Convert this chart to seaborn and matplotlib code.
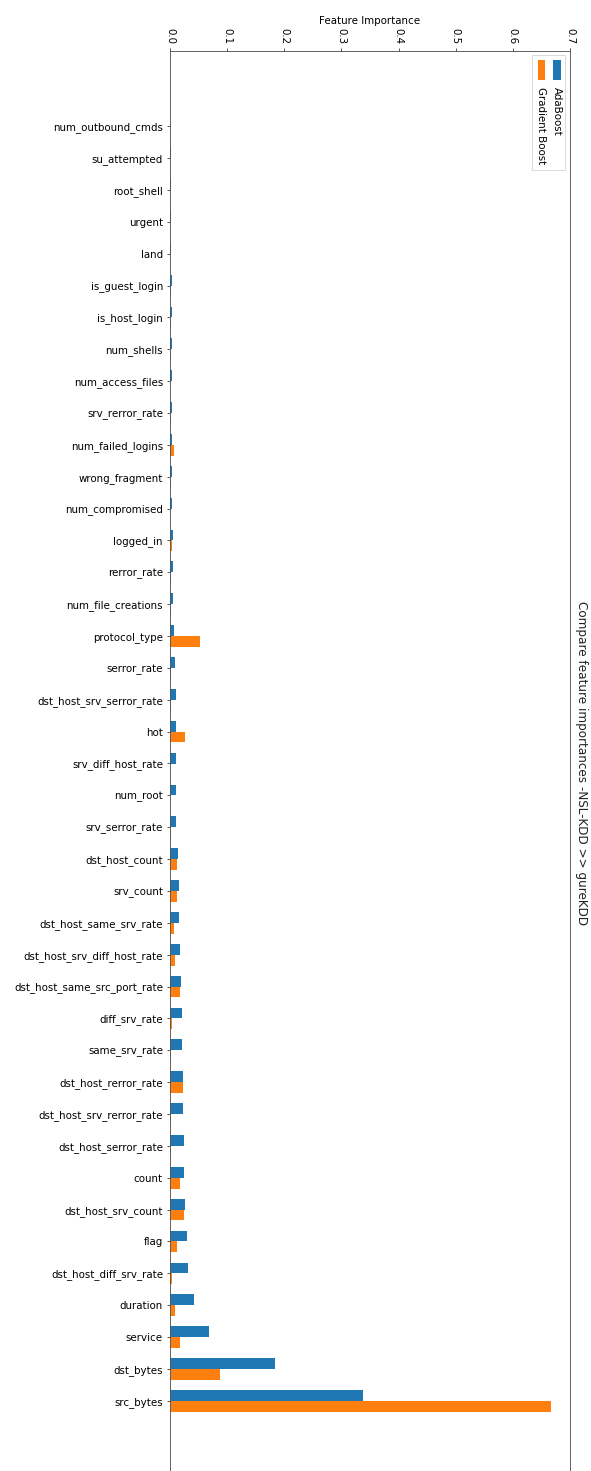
import matplotlib
matplotlib.use("Agg")
import matplotlib.pyplot as plt
from matplotlib.patches import Rectangle
import seaborn as sns
import pandas as pd

features = [
    "num_outbound_cmds", "su_attempted", "root_shell", "urgent", "land",
    "is_guest_login", "is_host_login", "num_shells", "num_access_files",
    "srv_rerror_rate", "num_failed_logins", "wrong_fragment", "num_compromised",
    "logged_in", "rerror_rate", "num_file_creations", "protocol_type",
    "serror_rate", "dst_host_srv_serror_rate", "hot", "srv_diff_host_rate",
    "num_root", "srv_serror_rate", "dst_host_count", "srv_count",
    "dst_host_same_srv_rate", "dst_host_srv_diff_host_rate",
    "dst_host_same_src_port_rate", "diff_srv_rate", "same_srv_rate",
    "dst_host_rerror_rate", "dst_host_srv_rerror_rate", "dst_host_serror_rate",
    "count", "dst_host_srv_count", "flag", "dst_host_diff_srv_rate",
    "duration", "service", "dst_bytes", "src_bytes",
]

adaboost = [
    0.0, 0.0025, 0.0025, 0.0026, 0.0026,
    0.0027, 0.0027, 0.0028, 0.0028,
    0.0029, 0.0030, 0.0040, 0.0042,
    0.0044, 0.0057, 0.0060, 0.0077,
    0.0095, 0.0097, 0.0098, 0.0099,
    0.0100, 0.0110, 0.0148, 0.0150,
    0.0152, 0.0170,
    0.0200, 0.0203, 0.0205,
    0.0220, 0.0225, 0.0240,
    0.0242, 0.0260, 0.0290, 0.0310,
    0.0420, 0.0690, 0.1830, 0.3375,
]

gradient_boost = [
    0.0, 0.0, 0.0, 0.0, 0.0,
    0.0025, 0.0025, 0.0025, 0.0,
    0.0025, 0.0075, 0.0025, 0.0,
    0.0042, 0.0025, 0.0025, 0.0530,
    0.0025, 0.0025, 0.0270, 0.0,
    0.0, 0.0025, 0.0130, 0.0130,
    0.0076, 0.0093,
    0.0170, 0.0035, 0.0025,
    0.0220, 0.0025, 0.0025,
    0.0170, 0.0240, 0.0130, 0.0035,
    0.0090, 0.0180, 0.0870, 0.6660,
]

models = ["AdaBoost", "Gradient Boost"]
colors = ["#1f77b4", "#ff7f0e"]
x_ticks = [0.0, 0.1, 0.2, 0.3, 0.4, 0.5, 0.6, 0.7]

df = pd.DataFrame({"feature": features, models[0]: adaboost, models[1]: gradient_boost})
long_df = df.melt(id_vars="feature", var_name="model", value_name="importance")

plt.rcParams["font.family"] = ["DejaVu Sans"]
plt.rcParams["font.size"] = 10.3

W, H, DPI = 591, 1471, 72
fig = plt.figure(figsize=(W / DPI, H / DPI), dpi=DPI)
fig.patch.set_facecolor("white")

# axes box in pixels: x 170..570, y 51..1476 (runs slightly past the bottom edge)
left_px, right_px, top_px, bottom_px = 170, 570, 51, 1476
ax = fig.add_axes([left_px / W, (H - bottom_px) / H,
                   (right_px - left_px) / W, (bottom_px - top_px) / H])

sns.barplot(data=long_df, y="feature", x="importance", hue="model",
            hue_order=models, palette=colors, orient="h", width=0.68,
            saturation=1, errorbar=None, ax=ax, legend=False)

ax.set_xlim(0, 0.7)
ax.set_xticks(x_ticks)
ax.set_xticklabels([f"{t:.1f}" for t in x_ticks])
ax.set_ylim(len(features) - 1 + 2.36, -2.36)

ax.xaxis.tick_top()
ax.xaxis.set_label_position("top")
ax.set_xlabel("Feature Importance", fontsize=10.3)
ax.set_ylabel("")
ax.tick_params(axis="x", labelrotation=-90, labelsize=10.3, color="#333333")
ax.tick_params(axis="y", labelsize=10.3, color="#333333")
for s in ax.spines.values():
    s.set_linewidth(0.9)
    s.set_color("#555555")

# title on the right side, reading downward
ax.text(1.0125, 0.5, "Compare feature importances -NSL-KDD >> gureKDD",
        transform=ax.transAxes, rotation=-90, ha="left", va="center",
        fontsize=12, color="#222222")

# legend laid out along the rotated axis
aw = right_px - left_px
ah = bottom_px - top_px
fx = lambda px: (px - left_px) / aw
fy = lambda py: 1 - (py - top_px) / ah

ax.add_patch(Rectangle((fx(531.7), fy(170)), fx(565) - fx(531.7), fy(55) - fy(170),
                       transform=ax.transAxes, facecolor="white", edgecolor="0.8",
                       linewidth=0.8, alpha=0.9, zorder=5, clip_on=False))
entries = [(models[0], colors[0], 553.3, 556.5), (models[1], colors[1], 537.7, 541.0)]
for name, col, px0, tx in entries:
    ax.add_patch(Rectangle((fx(px0), fy(80)), fx(px0 + 7.4) - fx(px0), fy(60) - fy(80),
                           transform=ax.transAxes, facecolor=col, edgecolor="none",
                           zorder=6, clip_on=False))
    ax.text(fx(tx), fy(87), name, transform=ax.transAxes, rotation=-90,
            ha="center", va="top", fontsize=10.3, zorder=6)

fig.savefig("out.png", dpi=DPI, facecolor="white")
